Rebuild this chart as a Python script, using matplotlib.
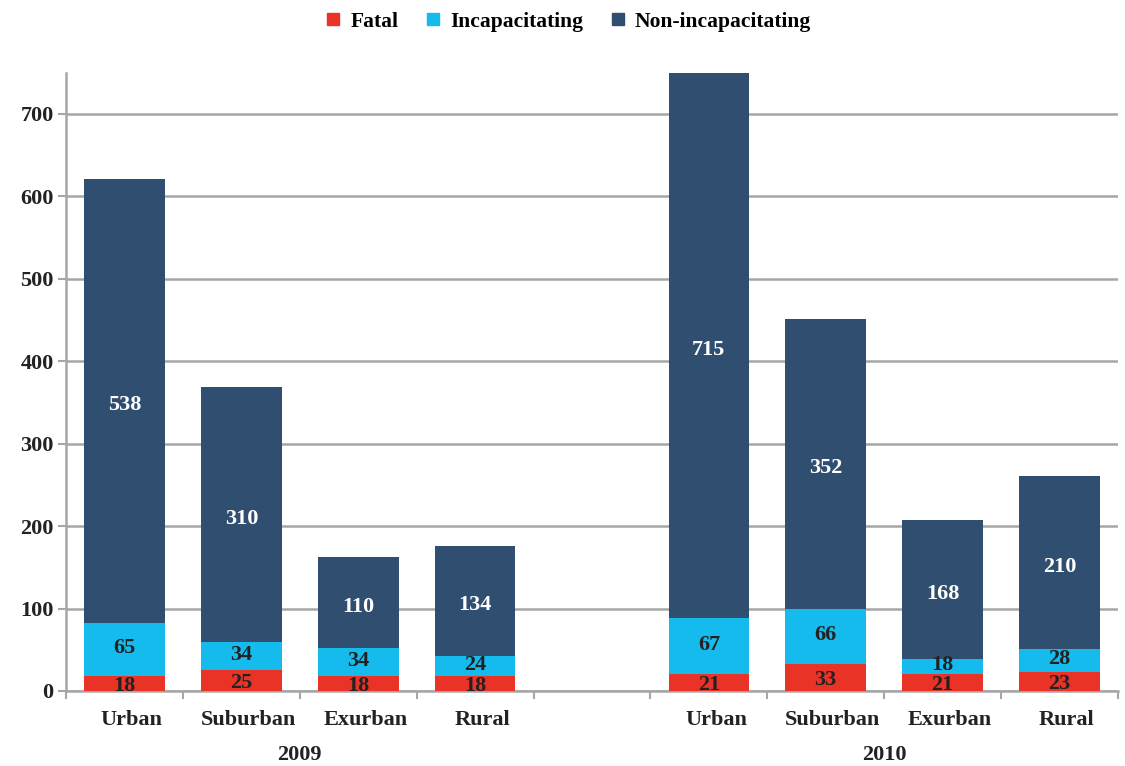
import numpy as np
import matplotlib
matplotlib.use("Agg")
import matplotlib.pyplot as plt
from matplotlib.lines import Line2D

plt.rcParams['font.family'] = ['Liberation Serif', 'DejaVu Serif']
plt.rcParams['font.weight'] = 'bold'

years = ["2009", "2010"]
areas = ["Urban", "Suburban", "Exurban", "Rural"]
fatal = {"2009": [18, 25, 18, 18], "2010": [21, 33, 21, 23]}
incap = {"2009": [65, 34, 34, 24], "2010": [67, 66, 18, 28]}
nonincap = {"2009": [538, 310, 110, 134], "2010": [715, 352, 168, 210]}

series = ["Fatal", "Incapacitating", "Non-incapacitating"]
colors = ["#e83326", "#14bbec", "#2f4e70"]
text_colors = ["#222222", "#222222", "white"]
offsets = [-2, 1, -3]   # small vertical nudge of labels, in points
YMAX = 750
FS = 16

fig = plt.figure(figsize=(11.25, 7.66), dpi=100)
ax = fig.add_axes([0.0587, 0.098, 0.935, 0.807])

# slot positions: 4 bars, one empty slot, 4 bars
pos = {"2009": np.arange(4), "2010": np.arange(5, 9)}
width = 0.69

for yr in years:
    x = pos[yr]
    data = [np.array(fatal[yr]), np.array(incap[yr]), np.array(nonincap[yr])]
    bottom = np.zeros(4)
    for vals, col, tcol, dy in zip(data, colors, text_colors, offsets):
        ax.bar(x, vals, width, bottom=bottom, color=col, zorder=3)
        for xi, b, v in zip(x, bottom, vals):
            top = min(b + v, YMAX)
            ax.annotate(str(v), (xi, (b + top) / 2), xytext=(0, dy),
                        textcoords="offset points", ha="center", va="center",
                        color=tcol, fontsize=FS, fontweight="bold", zorder=4,
                        annotation_clip=False)
        bottom = bottom + vals

ax.set_xlim(-0.5, 8.5)
ax.set_ylim(0, YMAX)
ax.set_yticks(np.arange(0, 701, 100))
ax.yaxis.grid(True, color="#a6a6a6", linewidth=1.8, zorder=0)
ax.set_axisbelow(True)

ax.set_xticks(np.arange(-0.5, 9, 1))
ax.set_xticklabels([])
ax.tick_params(axis="x", direction="out", length=6, color="#a6a6a6", width=1.5)
ax.tick_params(axis="y", length=6, color="#a6a6a6", width=1.5, labelsize=FS,
               pad=3, labelcolor="#222222")
for lab in ax.get_yticklabels():
    lab.set_fontweight("bold")

for yr in years:
    for xi, name in zip(pos[yr], areas):
        ax.text(xi + 0.06, -23, name, ha="center", va="top", fontsize=FS,
                fontweight="bold", color="#222222")
    ax.text(pos[yr].mean(), -66, yr, ha="center", va="top", fontsize=FS,
            fontweight="bold", color="#222222")

for s in ["top", "right"]:
    ax.spines[s].set_visible(False)
for s in ["left", "bottom"]:
    ax.spines[s].set_color("#a6a6a6")
    ax.spines[s].set_linewidth(1.8)

handles = [Line2D([0], [0], marker="s", linestyle="none", markersize=8,
                  markerfacecolor=c, markeredgecolor=c) for c in colors]
fig.legend(handles, series, loc="upper center", bbox_to_anchor=(0.503, 1.01),
           ncol=3, frameon=False, handletextpad=0.2, handlelength=1.2,
           columnspacing=1.0, prop={"weight": "bold", "size": 15.5})

fig.savefig("out.png", dpi=100)
